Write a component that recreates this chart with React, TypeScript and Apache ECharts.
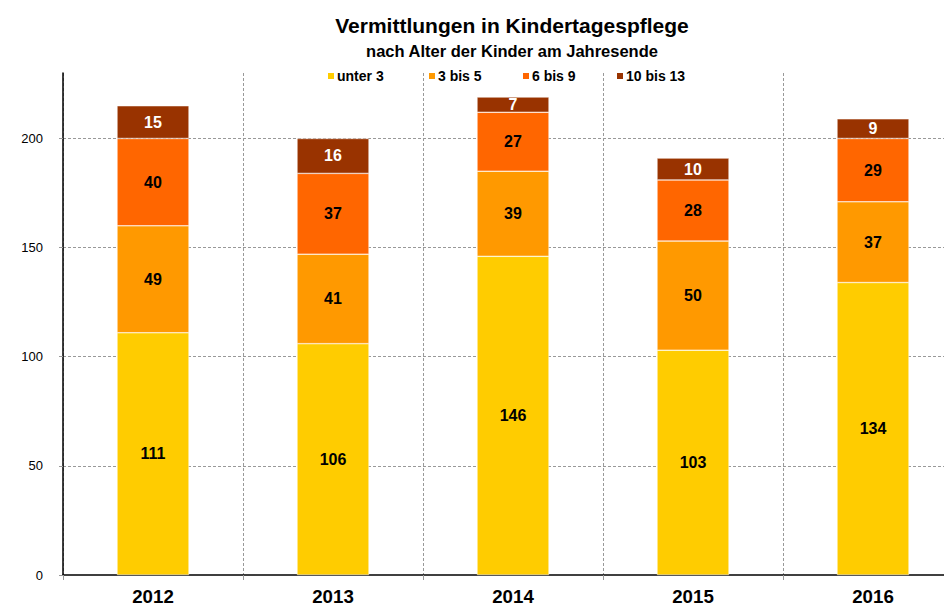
import React, { useEffect, useRef } from "react";
import * as echarts from "echarts";

const categories = ["2012", "2013", "2014", "2015", "2016"];
const seriesNames = ["unter 3", "3 bis 5", "6 bis 9", "10 bis 13"];
const unter3 = [111, 106, 146, 103, 134];
const bis5 = [49, 41, 39, 50, 37];
const bis9 = [40, 37, 27, 28, 29];
const bis13 = [15, 16, 7, 10, 9];
const gridValues = [50, 100, 150, 200];
const colors = ["#FFCC00", "#FF9900", "#FF6600", "#993300"];
const legendLefts = [326, 427, 521, 615];

const FONT = "'Liberation Sans', Arial, Helvetica, sans-serif";

export default function App() {
  const ref = useRef<HTMLDivElement>(null);
  useEffect(() => {
    document.body.style.margin = "0";
    const chart = echarts.init(ref.current!, null, { renderer: "svg" });
    const data = [unter3, bis5, bis9, bis13];
    const series: any[] = data.map((vals, i) => ({
      name: seriesNames[i],
      type: "bar",
      stack: "total",
      barWidth: 72,
      data: vals,
      itemStyle: { color: colors[i], borderColor: "#ffffff", borderWidth: 0.5 },
      label: {
        show: true,
        position: "inside",
        fontFamily: FONT,
        fontWeight: "bold",
        fontSize: 16,
        color: i === 3 ? "#ffffff" : "#000000",
      },
      emphasis: { disabled: true },
    }));
    series[0].markLine = {
      silent: true,
      symbol: "none",
      label: { show: false },
      lineStyle: { color: "#999999", type: [3, 2], width: 1 },
      data: gridValues.map((v) => ({ yAxis: v })),
      z: 0,
    };
    chart.setOption({
      animation: false,
      textStyle: { fontFamily: FONT },
      title: [
        {
          text: "Vermittlungen in Kindertagespflege",
          left: 507,
          top: 10,
          textAlign: "center",
          textStyle: { fontFamily: FONT, fontWeight: "bold", fontSize: 21, color: "#000" },
        },
        {
          text: "nach Alter der Kinder am Jahresende",
          left: 507,
          top: 37,
          textAlign: "center",
          textStyle: { fontFamily: FONT, fontWeight: "bold", fontSize: 16.5, color: "#000" },
        },
      ],
      legend: seriesNames.map((name, i) => ({
        data: [name],
        top: 69,
        left: legendLefts[i],
        padding: 0,
        itemWidth: 8,
        itemHeight: 8,
        icon: "rect",
        textStyle: { fontFamily: FONT, fontWeight: "bold", fontSize: 14, color: "#000", padding: [0, 0, 0, -3] },
        selectedMode: false,
      })),
      grid: { left: 63, width: 900, top: 73, bottom: 31, containLabel: false, outerBoundsMode: "none" },
      xAxis: {
        type: "category",
        data: categories,
        axisLine: { lineStyle: { color: "#000", width: 1.5 } },
        axisTick: { show: true, length: 5, lineStyle: { color: "#999" } },
        axisLabel: { fontFamily: FONT, fontWeight: "bold", fontSize: 18.7, color: "#000", margin: 12 },
        splitLine: { show: true, lineStyle: { color: "#999", type: [3, 2] } },
      },
      yAxis: {
        type: "value",
        min: 0,
        max: 230,
        interval: 50,
        axisLine: { show: true, lineStyle: { color: "#000", width: 1.5 } },
        axisTick: { show: true, length: 4, lineStyle: { color: "#999" } },
        axisLabel: {
          fontFamily: FONT,
          fontSize: 13,
          color: "#000",
          margin: 20,
          showMaxLabel: false,
        },
        splitLine: { show: false },
      },
      series,
    });
    return () => chart.dispose();
  }, []);
  return <div ref={ref} style={{ width: 944, height: 606 }} />;
}
